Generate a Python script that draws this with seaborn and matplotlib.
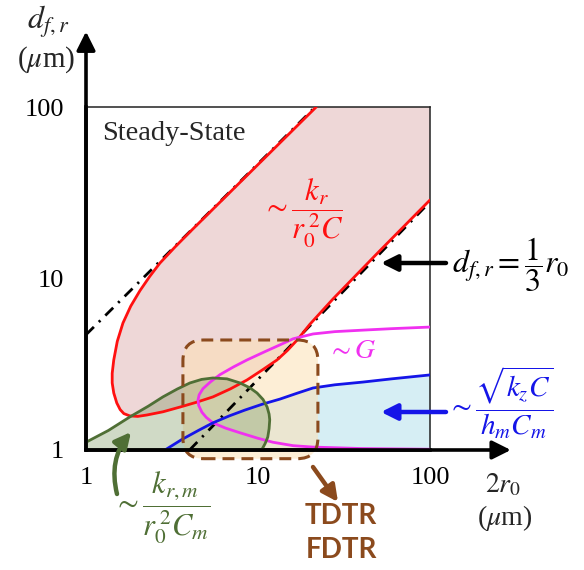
import matplotlib
matplotlib.use('Agg')
import matplotlib.pyplot as plt
from matplotlib.patches import FancyBboxPatch
import seaborn as sns

# curve points (x = 2r0 in um, y = d_fr in um)
red_x = [21.8, 8.0, 4.0, 3.3, 2.69, 2.35, 2.06, 1.82, 1.64, 1.52, 1.45, 1.42, 1.42, 1.45,
         1.51, 1.58, 1.66, 1.8, 2.0, 2.26, 2.8, 3.52, 4.4, 5.47, 6.9, 8.63, 10.6, 12.9,
         14.8, 16.9, 20.0, 27.3, 50.0, 100]
red_y = [100, 37, 18.6, 15.3, 12.3, 10.3, 8.5, 6.9, 5.5, 4.3, 3.35, 2.8, 2.46, 2.15,
         1.88, 1.72, 1.63, 1.58, 1.57, 1.60, 1.67, 1.78, 1.9, 2.04, 2.27, 2.56, 2.93, 3.35,
         3.8, 4.38, 5.4, 7.6, 14.2, 28.7]

mag_x = [100, 60, 40.8, 28, 20.9, 16, 13.4, 11, 8.63, 7.2, 6.01, 5.3, 4.79, 4.55, 4.48,
         4.52, 4.72, 5.0, 5.47, 6.5, 7.86, 10, 12.2, 16, 20.9, 40, 100]
mag_y = [5.21, 5.1, 5.0, 4.9, 4.75, 4.45, 4.1, 3.75, 3.35, 3.05, 2.75, 2.5, 2.28, 2.1, 1.96,
         1.82, 1.66, 1.55, 1.44, 1.34, 1.26, 1.17, 1.11, 1.06, 1.04, 1.02, 1.01]

blue_x = [2.88, 3.6, 4.5, 5.47, 6.8, 8.4, 10.6, 13.4, 16.8, 20.9, 28, 40.8, 60, 100]
blue_y = [1.0, 1.15, 1.3, 1.44, 1.58, 1.71, 1.85, 1.98, 2.14, 2.30, 2.40, 2.49, 2.6, 2.74]

green_x = [1.0, 1.35, 1.8, 2.3, 2.8, 3.4, 4.02, 4.7, 5.47, 6.6, 7.86, 9.0, 9.87, 10.7,
           11.3, 11.6, 11.7, 11.6, 11.4, 11.0, 10.5]
green_y = [1.11, 1.3, 1.56, 1.8, 2.04, 2.27, 2.46, 2.58, 2.63, 2.6, 2.46, 2.3, 2.15, 1.97,
           1.78, 1.62, 1.50, 1.33, 1.19, 1.09, 1.0]

# d_fr limits (dash-dot)
upper_x = [1.0, 21.5]
upper_y = [4.7, 100]
lower_x = [4.0, 100]
lower_y = [1.0, 28.0]

# TDTR/FDTR window
tdtr_x = [3.66, 22.3]
tdtr_y = [0.89, 4.38]

ticks = [1, 10, 100]
tick_labels = ['1', '10', '100']

sns.set_theme(style='white')
plt.rcParams['font.family'] = ['Liberation Serif', 'DejaVu Serif']
plt.rcParams['mathtext.fontset'] = 'stix'

W, H = 584, 570
fig = plt.figure(figsize=(W / 100, H / 100), dpi=100)
ax = fig.add_axes([86 / W, 1 - 450 / H, 344 / W, 343 / H])
ax.set_xscale('log')
ax.set_yscale('log')
ax.set_xlim(1, 100)
ax.set_ylim(1, 100)

def px(x, y):
    return (x / W, 1 - y / H)

brown = '#8b4a1d'
green = '#4f6f35'

# fills
ax.fill(red_x + [100], red_y + [100], color='#eed7d7', zorder=1, lw=0)
ax.fill_between(blue_x, blue_y, 1, color='#d6eef4', zorder=1, lw=0)

# TDTR box in axes fraction
p0 = ax.transAxes.inverted().transform(ax.transData.transform((tdtr_x[0], tdtr_y[0])))
p1 = ax.transAxes.inverted().transform(ax.transData.transform((tdtr_x[1], tdtr_y[1])))
box = FancyBboxPatch((p0[0], p0[1]), p1[0] - p0[0], p1[1] - p0[1],
                     boxstyle='round,pad=0,rounding_size=0.06', transform=ax.transAxes,
                     facecolor='#fde1b5', alpha=0.55, edgecolor='none', clip_on=False, zorder=2)
ax.add_patch(box)
box_edge = FancyBboxPatch((p0[0], p0[1]), p1[0] - p0[0], p1[1] - p0[1],
                          boxstyle='round,pad=0,rounding_size=0.06', transform=ax.transAxes,
                          facecolor='none', edgecolor=brown, lw=2.2,
                          linestyle=(0, (3.9, 2.3)), clip_on=False, zorder=6)
ax.add_patch(box_edge)

ax.fill(green_x + [1.0], green_y + [1.0], color='#6e8c50', alpha=0.32, zorder=3, lw=0)

# curves
dashdot = (0, (4, 2.5, 0.8, 2.5))
sns.lineplot(x=upper_x, y=upper_y, ax=ax, color='black', lw=2, sort=False, estimator=None,
             linestyle=dashdot, zorder=4)
sns.lineplot(x=lower_x, y=lower_y, ax=ax, color='black', lw=2, sort=False, estimator=None,
             linestyle=dashdot, zorder=4)
sns.lineplot(x=red_x, y=red_y, ax=ax, color='#ff1010', lw=2, sort=False, estimator=None, zorder=5)
sns.lineplot(x=mag_x, y=mag_y, ax=ax, color='#f030f0', lw=2, sort=False, estimator=None, zorder=5)
sns.lineplot(x=blue_x, y=blue_y, ax=ax, color='#1515e8', lw=2, sort=False, estimator=None, zorder=5)
sns.lineplot(x=green_x, y=green_y, ax=ax, color=green, lw=2, sort=False, estimator=None, zorder=5)

# axes styling
ax.set_xticks(ticks)
ax.set_xticklabels(tick_labels)
ax.set_yticks(ticks)
ax.set_yticklabels(tick_labels)
ax.minorticks_off()
ax.tick_params(direction='in', length=7, width=1.2, labelsize=19, colors='black')
ax.tick_params(axis='y', pad=16)
ax.tick_params(axis='x', pad=12)
for s in ['top', 'right']:
    ax.spines[s].set_linewidth(1.1)
    ax.spines[s].set_color('#222222')
for s in ['left', 'bottom']:
    ax.spines[s].set_linewidth(2.6)
    ax.spines[s].set_color('black')
ax.grid(False)
ax.set_xlabel('')
ax.set_ylabel('')

# axis arrows
ax.annotate('', xy=(1.235, 0), xytext=(0, 0), xycoords='axes fraction',
            arrowprops=dict(arrowstyle='-|>', lw=2.6, color='black', mutation_scale=28,
                            shrinkA=0, shrinkB=0), zorder=7)
ax.annotate('', xy=(0, 1.22), xytext=(0, 0), xycoords='axes fraction',
            arrowprops=dict(arrowstyle='-|>', lw=2.6, color='black', mutation_scale=28,
                            shrinkA=0, shrinkB=0), zorder=7)

# pointer arrows
arrow_kw = dict(arrowstyle='-|>', lw=3.2, mutation_scale=24, shrinkA=0, shrinkB=0)
ax.annotate('', xy=px(381, 263), xytext=px(446, 263), xycoords='figure fraction',
            arrowprops=dict(color='black', **arrow_kw), zorder=8)
ax.annotate('', xy=px(381, 412), xytext=px(446, 412), xycoords='figure fraction',
            arrowprops=dict(color='#1515e8', **arrow_kw), zorder=8)
ax.annotate('', xy=px(338, 502), xytext=px(313, 467), xycoords='figure fraction',
            arrowprops=dict(color=brown, **arrow_kw), zorder=8)
ax.annotate('', xy=px(131, 432), xytext=px(117, 494), xycoords='figure fraction',
            arrowprops=dict(color=green, connectionstyle='arc3,rad=-0.25', **arrow_kw), zorder=8)

# labels
fig.text(*px(48, 22), r'$d_{f,r}$', fontsize=23, ha='center', va='center')
fig.text(*px(46, 60), r'($\mu$m)', fontsize=21, ha='center', va='center')
fig.text(*px(503, 485), r'$2r_0$', fontsize=20, ha='center', va='center')
fig.text(*px(505, 518), r'($\mu$m)', fontsize=20, ha='center', va='center')
fig.text(*px(102, 133), 'Steady-State', fontsize=20.5, ha='left', va='center')

fig.text(*px(303, 213), r'$\sim\dfrac{k_r}{r_0^{\,2}C}$', fontsize=22, color='#ff1010',
         ha='center', va='center')
fig.text(*px(352, 352), r'$\sim G$', fontsize=20, color='#f030f0', ha='center', va='center')
fig.text(*px(511, 265), r'$d_{f,r}=\dfrac{1}{3}r_0$', fontsize=23, color='black',
         ha='center', va='center')
fig.text(*px(500, 403), r'$\sim\dfrac{\sqrt{k_zC}}{h_mC_m}$', fontsize=21, color='#1515e8',
         ha='center', va='center')
fig.text(*px(162, 508), r'$\sim\dfrac{k_{r,m}}{r_0^{\,2}C_m}$', fontsize=22, color=green,
         ha='center', va='center')
fig.text(*px(341, 516), 'TDTR', fontsize=20, color=brown, ha='center', va='center',
         family='Lato', weight='bold')
fig.text(*px(341, 550), 'FDTR', fontsize=20, color=brown, ha='center', va='center',
         family='Lato', weight='bold')

fig.savefig('out.png', dpi=100)
